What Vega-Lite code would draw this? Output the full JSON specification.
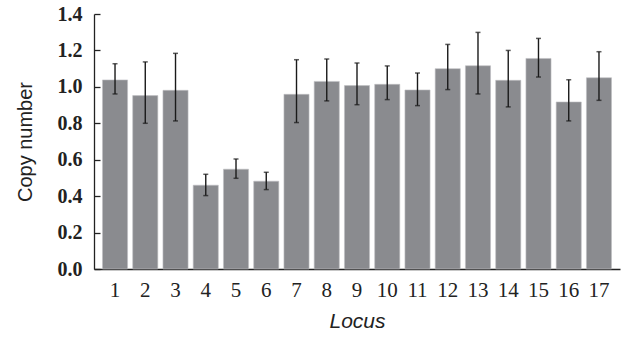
{
  "$schema": "https://vega.github.io/schema/vega-lite/v6.json",
  "autosize": {"type": "none"},
  "width": 526,
  "height": 255,
  "padding": {"left": 94, "top": 14, "right": 4, "bottom": 70},
  "background": "white",
  "config": {"view": {"stroke": null}},
  "resolve": {"axis": {"y": "independent"}, "scale": {"y": "shared"}},
  "data": {"values": [
    {"locus": "1", "mean": 1.038, "lo": 0.961, "hi": 1.127},
    {"locus": "2", "mean": 0.952, "lo": 0.800, "hi": 1.137},
    {"locus": "3", "mean": 0.981, "lo": 0.813, "hi": 1.184},
    {"locus": "4", "mean": 0.460, "lo": 0.403, "hi": 0.520},
    {"locus": "5", "mean": 0.548, "lo": 0.498, "hi": 0.604},
    {"locus": "6", "mean": 0.482, "lo": 0.436, "hi": 0.531},
    {"locus": "7", "mean": 0.959, "lo": 0.804, "hi": 1.149},
    {"locus": "8", "mean": 1.030, "lo": 0.923, "hi": 1.153},
    {"locus": "9", "mean": 1.007, "lo": 0.902, "hi": 1.131},
    {"locus": "10", "mean": 1.014, "lo": 0.930, "hi": 1.115},
    {"locus": "11", "mean": 0.983, "lo": 0.897, "hi": 1.076},
    {"locus": "12", "mean": 1.100, "lo": 0.985, "hi": 1.233},
    {"locus": "13", "mean": 1.116, "lo": 0.961, "hi": 1.299},
    {"locus": "14", "mean": 1.036, "lo": 0.890, "hi": 1.200},
    {"locus": "15", "mean": 1.156, "lo": 1.054, "hi": 1.266},
    {"locus": "16", "mean": 0.917, "lo": 0.813, "hi": 1.039},
    {"locus": "17", "mean": 1.050, "lo": 0.926, "hi": 1.193}
  ]},
  "encoding": {
    "x": {
      "field": "locus", "type": "ordinal", "sort": null,
      "scale": {"paddingInner": 0.17, "paddingOuter": 0.28},
      "axis": {
        "title": "Locus", "labelAngle": 0, "ticks": false,
        "labelFont": "Liberation Serif", "labelFontSize": 21, "labelColor": "#222",
        "labelPadding": 10, "domainColor": "#222", "domainWidth": 1.3,
        "titleFont": "Liberation Sans", "titleFontStyle": "italic", "titleFontWeight": "normal",
        "titleFontSize": 21, "titleColor": "#222", "titlePadding": 10
      }
    }
  },
  "layer": [
    {
      "mark": {"type": "bar", "color": "#8a8b8f", "stroke": "#bfc0c3", "strokeWidth": 0.6},
      "encoding": {
        "y": {
          "field": "mean", "type": "quantitative",
          "scale": {"domain": [0, 1.4], "nice": false},
          "axis": {
            "title": "Copy number", "values": [0, 0.2, 0.4, 0.6, 0.8, 1.0, 1.2, 1.4],
            "format": ".1f", "grid": false, "labelOverlap": false,
            "tickSize": -6, "tickColor": "#222", "tickWidth": 1.3,
            "domainColor": "#222", "domainWidth": 1.3,
            "labelFont": "Liberation Serif", "labelFontWeight": "bold", "labelFontSize": 20,
            "labelColor": "#222", "labelPadding": 18,
            "titleFont": "Liberation Sans", "titleFontWeight": "normal", "titleFontSize": 20,
            "titleColor": "#222", "titlePadding": 22
          }
        }
      }
    },
    {
      "mark": {"type": "rule", "color": "#1a1a1a", "strokeWidth": 1.4},
      "encoding": {
        "y": {"field": "lo", "type": "quantitative", "axis": null},
        "y2": {"field": "hi"}
      }
    },
    {
      "mark": {"type": "tick", "color": "#1a1a1a", "size": 5, "thickness": 1.5},
      "encoding": {"y": {"field": "lo", "type": "quantitative", "axis": null}}
    },
    {
      "mark": {"type": "tick", "color": "#1a1a1a", "size": 5, "thickness": 1.5},
      "encoding": {"y": {"field": "hi", "type": "quantitative", "axis": null}}
    }
  ]
}
